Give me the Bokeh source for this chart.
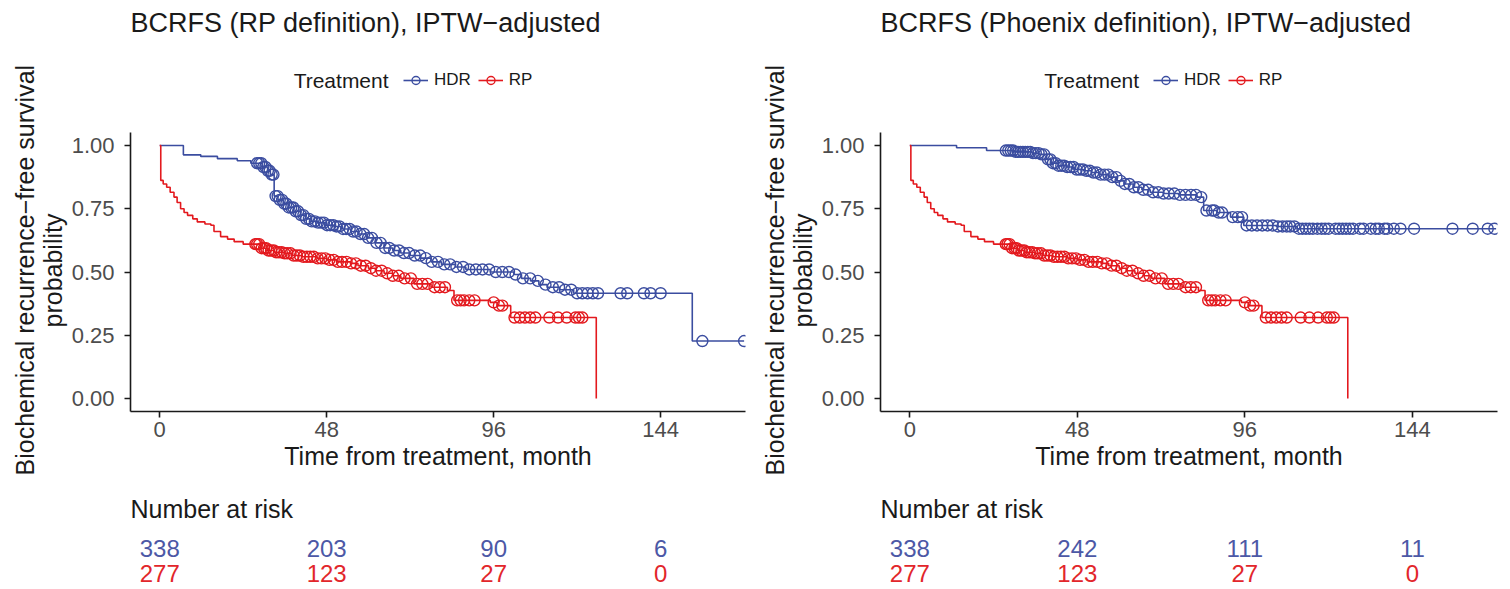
import numpy as np
from bokeh.plotting import figure
from bokeh.layouts import row, column
from bokeh.models import (Range1d, FixedTicker, NumeralTickFormatter, Label,
                          Legend, LegendItem, Title)
from bokeh.core.properties import value
from bokeh.embed import file_html
from bokeh.resources import INLINE

# ---------------- data ----------------
titles = ["BCRFS (RP definition), IPTW\u2212adjusted",
          "BCRFS (Phoenix definition), IPTW\u2212adjusted"]
legend_title = "Treatment"
groups = ["HDR", "RP"]
y_label_lines = ["Biochemical recurrence\u2212free survival", "probability"]
x_label = "Time from treatment, month"

# HDR, RP definition
hdr_rp_time = [0, 6.8, 11.8, 16.6, 22.3, 26.2, 29.5, 31.0, 31.8, 32.9, 34.0, 35.5, 37.0, 38.5,
               40.5, 42.0, 43.5, 45.3, 47.5, 50.1, 52.5, 54.9, 57.0, 59.7, 62.0, 64.5, 67.0,
               69.3, 72.0, 75.0, 78.0, 81.0, 85.0, 88.0, 95.1, 101.8, 104.0, 106.6, 109.0,
               111.4, 115.0, 119.0, 153.1, 168.0]
hdr_rp_surv = [1.0, 0.963, 0.957, 0.948, 0.940, 0.930, 0.915, 0.900, 0.885, 0.800, 0.785,
               0.770, 0.755, 0.740, 0.725, 0.710, 0.700, 0.695, 0.685, 0.680, 0.670, 0.660,
               0.650, 0.635, 0.615, 0.595, 0.585, 0.575, 0.565, 0.555, 0.540, 0.530, 0.520,
               0.510, 0.500, 0.490, 0.475, 0.465, 0.450, 0.440, 0.430, 0.416, 0.227, 0.227]
hdr_rp_cens = [28.0, 28.6, 29.2, 29.8, 30.4, 31.1, 31.6, 32.2, 32.7, 33.3, 33.9, 34.5, 35.2,
               35.8, 36.4, 37.1, 37.8, 38.4, 39.1, 39.8, 40.6, 41.3, 42.1, 42.9, 43.7, 44.6,
               45.5, 46.4, 47.2, 48.1, 49.0, 49.9, 50.8, 51.7, 52.7, 53.6, 54.6, 55.6, 56.6,
               57.7, 58.8, 59.9, 61.0, 62.3, 63.5, 64.8, 66.0, 67.4, 68.8, 70.2, 71.7, 73.3,
               74.9, 76.5, 78.2, 80.0, 81.8, 83.5, 85.3, 87.2, 89.0, 90.9, 92.8, 94.7, 96.6,
               98.5, 100.4, 102.3, 104.4, 106.5, 108.7, 110.9, 113.0, 114.8, 116.5, 118.3,
               120.0, 121.5, 123.0, 124.5, 126.0, 132.5, 134.4, 139.2, 141.1, 144.0, 156.0,
               168.0]

# HDR, Phoenix definition
hdr_ph_time = [0, 13.4, 22.0, 30.0, 35.0, 37.0, 39.2, 40.5, 42.5, 45.0, 47.0, 49.8, 52.0,
               54.5, 57.0, 59.3, 61.5, 64.1, 66.5, 68.9, 72.7, 77.0, 82.3, 84.2, 88.0, 91.9,
               95.7, 105.0, 111.0, 168.0]
hdr_ph_surv = [1.0, 0.991, 0.980, 0.975, 0.970, 0.965, 0.945, 0.930, 0.920, 0.915, 0.905,
               0.900, 0.893, 0.885, 0.875, 0.860, 0.848, 0.835, 0.825, 0.815, 0.810, 0.805,
               0.796, 0.743, 0.735, 0.717, 0.684, 0.680, 0.671, 0.671]
hdr_ph_cens = [27.5, 28.2, 28.9, 29.6, 30.3, 31.0, 31.7, 32.4, 33.1, 33.8, 34.5, 35.3, 36.1,
               36.9, 37.7, 38.5, 39.6, 40.3, 41.0, 41.8, 42.6, 43.4, 44.2, 45.1, 46.0, 46.9,
               47.8, 48.7, 49.6, 50.6, 51.6, 52.6, 53.6, 54.7, 55.8, 56.9, 58.0, 59.2, 60.4,
               61.6, 62.9, 64.2, 65.5, 66.9, 68.3, 69.7, 71.2, 72.7, 74.2, 75.8, 77.4, 79.0,
               80.6, 82.0, 83.5, 85.0, 86.6, 87.3, 88.5, 89.5, 92.5, 94.0, 95.2, 96.5, 98.0,
               99.5, 101.0, 102.5, 104.0, 105.5, 106.8, 108.0, 109.0, 110.2, 111.5, 112.5,
               113.5, 114.5, 115.5, 116.8, 118.0, 119.0, 120.0, 122.0, 123.0, 124.0, 125.0,
               126.0, 127.0, 129.0, 130.0, 132.1, 133.5, 134.4, 136.0, 136.8, 138.7, 140.6,
               144.5, 155.5, 161.3, 165.6, 167.5]

# RP arm (same in both panels)
rp_time = [0, 0.3, 1.0, 2.0, 3.0, 4.1, 5.0, 6.0, 7.0, 8.0, 9.5, 10.8, 13.0, 14.7, 15.6, 17.5,
           19.5, 21.4, 24.0, 29.0, 31.0, 33.0, 35.7, 38.0, 41.0, 45.3, 48.0, 51.0, 54.9, 57.0,
           60.0, 62.0, 64.5, 67.0, 69.3, 73.1, 78.0, 82.7, 84.6, 95.0, 97.0, 100.9, 125.5]
rp_surv = [1.0, 0.862, 0.848, 0.835, 0.815, 0.796, 0.775, 0.750, 0.735, 0.724, 0.710, 0.698,
           0.690, 0.685, 0.660, 0.640, 0.630, 0.620, 0.610, 0.594, 0.585, 0.578, 0.574, 0.565,
           0.560, 0.554, 0.548, 0.540, 0.534, 0.525, 0.515, 0.505, 0.495, 0.485, 0.475, 0.453,
           0.440, 0.427, 0.388, 0.380, 0.367, 0.320, 0.0]
rp_cens = [27.5, 28.0, 28.6, 29.3, 30.0, 30.6, 31.3, 32.0, 32.8, 33.5, 34.3, 35.1, 35.9, 36.7,
           37.6, 38.5, 39.4, 40.3, 41.3, 42.3, 43.3, 44.3, 45.4, 46.5, 47.6, 48.8, 50.0, 51.2,
           52.4, 53.7, 55.0, 56.4, 57.8, 59.2, 60.7, 62.2, 63.8, 65.4, 67.0, 68.7, 70.4, 72.2,
           74.0, 75.5, 77.0, 79.0, 80.5, 82.0, 85.5, 86.5, 87.5, 89.0, 90.5, 96.0, 97.5, 98.5,
           102.0, 103.5, 105.0, 106.5, 108.0, 112.0, 114.5, 117.0, 119.5, 120.5, 121.5]

# number at risk
risk_times = [0, 48, 96, 144]
risk_hdr_rp = [338, 203, 90, 6]
risk_rp_rp = [277, 123, 27, 0]
risk_hdr_ph = [338, 242, 111, 11]
risk_rp_ph = [277, 123, 27, 0]

x_ticks = [0, 48, 96, 144]
y_ticks = [0, 0.25, 0.5, 0.75, 1.0]

# ---------------- style / layout ----------------
FONT = "Liberation Sans"
BLUE = "#3B4DA0"
RED = "#E3191E"
BLUE_TXT = "#4C58A6"
RED_TXT = "#E2262B"
DARK = "#1A1A1A"
GREY = "#4D4D4D"
W = 755
XR = (-8.4, 168.4)
KM_H = 480
KM_BOTTOM = 69
PX_PER_UNIT = 253.0          # pixels per 1.0 of survival probability
Y0_PX = 398.0                # pixel row of probability 0 from the top of the figure
Y_LO = (Y0_PX - (KM_H - KM_BOTTOM)) / PX_PER_UNIT
Y_HI = Y0_PX / PX_PER_UNIT
RISK_H = 109


def ypos(px_from_top):
    return (Y0_PX - px_from_top) / PX_PER_UNIT


def step_value(times, surv, t):
    idx = np.searchsorted(np.asarray(times), np.asarray(t), side="right") - 1
    return np.asarray(surv)[idx]


def km_panel(title, h_t, h_s, h_c, r_t, r_s, r_c, bl, br):
    p = figure(width=W, height=KM_H, x_range=Range1d(*XR), y_range=Range1d(Y_LO, Y_HI),
               output_backend="svg", toolbar_location=None,
               min_border_left=bl, min_border_right=br, min_border_top=0,
               min_border_bottom=KM_BOTTOM)
    p.xgrid.visible = False
    p.ygrid.visible = False
    p.outline_line_color = None

    hl = p.step(h_t, h_s, mode="after", line_color=BLUE, line_width=1.6)
    hc = p.scatter(h_c, step_value(h_t, h_s, h_c), marker="circle", size=11,
                   fill_color=None, line_color=BLUE, line_width=1.4)
    rl = p.step(r_t, r_s, mode="after", line_color=RED, line_width=1.6)
    rc = p.scatter(r_c, step_value(r_t, r_s, r_c), marker="circle", size=11,
                   fill_color=None, line_color=RED, line_width=1.4)

    for ax in (p.xaxis[0], p.yaxis[0]):
        ax.axis_line_color = DARK
        ax.axis_line_width = 1.6
        ax.major_tick_line_color = DARK
        ax.major_tick_line_width = 1.6
        ax.major_tick_out = 6
        ax.major_tick_in = 0
        ax.minor_tick_line_color = None
        ax.major_label_text_font = FONT
        ax.major_label_text_font_size = "22px"
        ax.major_label_text_color = GREY
        ax.axis_label_text_font = FONT
        ax.axis_label_text_font_style = "normal"
        ax.axis_label_text_color = DARK

    p.xaxis.ticker = FixedTicker(ticks=x_ticks)
    p.xaxis.axis_label = x_label
    p.xaxis.axis_label_text_font_size = "25px"
    p.xaxis.major_label_standoff = 4
    p.xaxis.axis_label_standoff = 2

    p.yaxis.ticker = FixedTicker(ticks=y_ticks)
    p.yaxis.formatter = NumeralTickFormatter(format="0.00")
    p.yaxis.bounds = (-0.05, 1.05)
    p.yaxis.major_label_standoff = 10

    # y-axis title, two lines centred on the probability axis
    p.add_layout(Title(text=y_label_lines[1], align="left", offset=84, standoff=0,
                       vertical_align="top", text_font=FONT, text_font_size="25px",
                       text_font_style="normal", text_color=DARK), "left")
    p.add_layout(Title(text=y_label_lines[0], align="left", offset=-64, standoff=0,
                       vertical_align="bottom", text_font=FONT, text_font_size="25px",
                       text_font_style="normal", text_color=DARK), "left")

    # plot title and legend, above the probability axis
    p.add_layout(Label(x=XR[0], y=ypos(22), text=title, text_font=FONT,
                       text_font_size="27px", text_color=DARK,
                       text_align="left", text_baseline="middle"))
    p.add_layout(Label(x=38.5, y=ypos(80), text=legend_title, text_font=FONT,
                       text_font_size="21px", text_color=DARK,
                       text_align="left", text_baseline="middle"))
    leg = Legend(items=[LegendItem(label=groups[0], renderers=[hl, hc]),
                        LegendItem(label=groups[1], renderers=[rl, rc])],
                 location=(273, KM_H - KM_BOTTOM - 80 - 10), orientation="horizontal",
                 glyph_width=25, glyph_height=20, label_height=20,
                 label_standoff=6, spacing=7, padding=0, margin=0,
                 label_text_font=FONT, label_text_font_size="17px",
                 label_text_color=DARK, background_fill_alpha=0,
                 border_line_alpha=0)
    p.add_layout(leg)
    return p


def risk_panel(hdr_n, rp_n, bl, br):
    r = figure(width=W, height=RISK_H, x_range=Range1d(*XR), y_range=Range1d(0, RISK_H),
               output_backend="svg", toolbar_location=None,
               min_border_left=bl, min_border_right=br, min_border_top=0,
               min_border_bottom=0, x_axis_location=None, y_axis_location=None)
    r.xgrid.visible = False
    r.ygrid.visible = False
    r.outline_line_color = None
    r.add_layout(Label(x=XR[0], y=81, text="Number at risk", text_font=FONT,
                       text_font_size="25px", text_color=DARK,
                       text_align="left", text_baseline="middle"))
    r.text(x=risk_times, y=[41] * len(risk_times), text=[str(v) for v in hdr_n],
           text_font=value(FONT), text_font_size="24px", text_color=BLUE_TXT,
           text_align="center", text_baseline="middle")
    r.text(x=risk_times, y=[16] * len(risk_times), text=[str(v) for v in rp_n],
           text_font=value(FONT), text_font_size="24px", text_color=RED_TXT,
           text_align="center", text_baseline="middle")
    return r


left = column(km_panel(titles[0], hdr_rp_time, hdr_rp_surv, hdr_rp_cens,
                       rp_time, rp_surv, rp_cens, 130, 10),
              risk_panel(risk_hdr_rp, risk_rp_rp, 130, 10))
right = column(km_panel(titles[1], hdr_ph_time, hdr_ph_surv, hdr_ph_cens,
                        rp_time, rp_surv, rp_cens, 125, 13),
               risk_panel(risk_hdr_ph, risk_rp_ph, 125, 13))

layout = row(left, right)
open("out.html", "w").write(file_html(layout, INLINE))
